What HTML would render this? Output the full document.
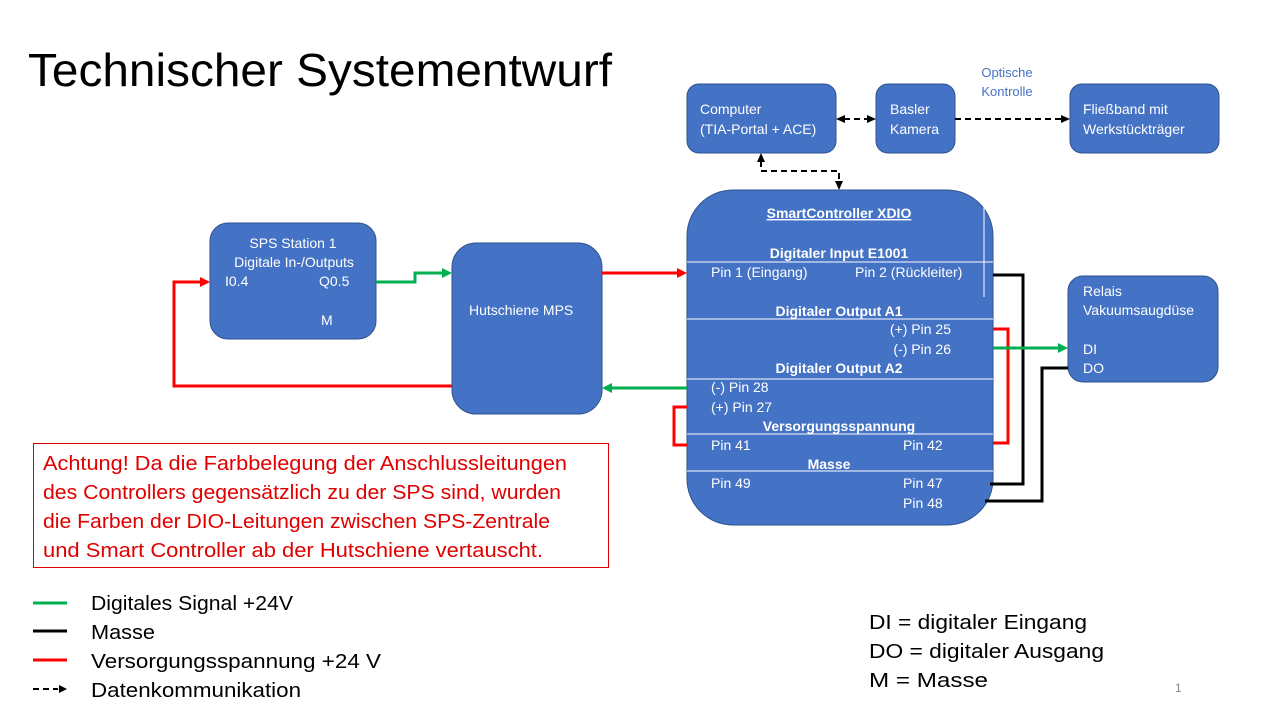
<!DOCTYPE html>
<html><head><meta charset="utf-8"><style>
html,body{margin:0;padding:0;background:#fff;}
svg{display:block;}
text{font-family:"Liberation Sans",sans-serif;}
.w{fill:#fff;font-size:14px;}
.wb{fill:#fff;font-size:14px;font-weight:bold;}
</style></head><body>
<svg width="1280" height="720" viewBox="0 0 1280 720" xmlns="http://www.w3.org/2000/svg">
<rect width="1280" height="720" fill="#fff"/>
<text x="28" y="86" font-size="46" fill="#000" textLength="584" lengthAdjust="spacingAndGlyphs">Technischer Systementwurf</text>

<!-- Top boxes -->
<rect x="687" y="84" width="149" height="69" rx="12" fill="#4472C4" stroke="#2F528F"/>
<text class="w" x="700" y="114">Computer</text>
<text class="w" x="700" y="134">(TIA-Portal + ACE)</text>
<rect x="876" y="84" width="79" height="69" rx="12" fill="#4472C4" stroke="#2F528F"/>
<text class="w" x="890" y="114">Basler</text>
<text class="w" x="890" y="134">Kamera</text>
<rect x="1070" y="84" width="149" height="69" rx="12" fill="#4472C4" stroke="#2F528F"/>
<text class="w" x="1083" y="114">Fließband mit</text>
<text class="w" x="1083" y="134">Werkstückträger</text>
<text x="1007" y="77" font-size="13" fill="#4472C4" text-anchor="middle">Optische</text>
<text x="1007" y="96" font-size="13" fill="#4472C4" text-anchor="middle">Kontrolle</text>

<!-- dashed connectors -->
<g stroke="#000" stroke-width="2" fill="none" stroke-dasharray="6,4">
<path d="M844 119 H868"/>
<path d="M955 119 H1062"/>
<path d="M761 161 V171 H839 V182"/>
</g>
<g fill="#000">
<polygon points="836,119 845,115 845,123"/>
<polygon points="876,119 867,115 867,123"/>
<polygon points="1070,119 1061,115 1061,123"/>
<polygon points="761,153 757,162 765,162"/>
<polygon points="839,190 835,181 843,181"/>
</g>

<!-- SPS Station -->
<rect x="210" y="223" width="166" height="116" rx="18" fill="#4472C4" stroke="#2F528F"/>
<text class="w" x="293" y="248" text-anchor="middle">SPS Station 1</text>
<text class="w" x="294" y="267" text-anchor="middle">Digitale In-/Outputs</text>
<text class="w" x="225" y="286">I0.4</text>
<text class="w" x="319" y="286">Q0.5</text>
<text class="w" x="321" y="325">M</text>

<!-- Hutschiene -->
<rect x="452" y="243" width="150" height="171" rx="24" fill="#4472C4" stroke="#2F528F"/>
<text class="w" x="469" y="315">Hutschiene MPS</text>

<!-- SmartController -->
<rect x="687" y="190" width="306" height="335" rx="46" fill="#4472C4" stroke="#2F528F"/>
<g stroke="#fff" stroke-width="1">
<line x1="687" y1="262" x2="993" y2="262"/>
<line x1="687" y1="319" x2="993" y2="319"/>
<line x1="687" y1="379" x2="993" y2="379"/>
<line x1="687" y1="434" x2="993" y2="434"/>
<line x1="687" y1="471" x2="993" y2="471"/>
<line x1="984" y1="203" x2="984" y2="297"/>
</g>
<text class="wb" x="839" y="218" text-anchor="middle" text-decoration="underline">SmartController XDIO</text>
<text class="wb" x="839" y="258" text-anchor="middle">Digitaler Input E1001</text>
<text class="w" x="711" y="277">Pin 1 (Eingang)</text>
<text class="w" x="855" y="277">Pin 2 (Rückleiter)</text>
<text class="wb" x="839" y="316" text-anchor="middle">Digitaler Output A1</text>
<text class="w" x="951" y="334" text-anchor="end">(+) Pin 25</text>
<text class="w" x="951" y="354" text-anchor="end">(-) Pin 26</text>
<text class="wb" x="839" y="373" text-anchor="middle">Digitaler Output A2</text>
<text class="w" x="711" y="392">(-) Pin 28</text>
<text class="w" x="711" y="412">(+) Pin 27</text>
<text class="wb" x="839" y="431" text-anchor="middle">Versorgungsspannung</text>
<text class="w" x="711" y="450">Pin 41</text>
<text class="w" x="903" y="450">Pin 42</text>
<text class="wb" x="829" y="469" text-anchor="middle">Masse</text>
<text class="w" x="711" y="488">Pin 49</text>
<text class="w" x="903" y="488">Pin 47</text>
<text class="w" x="903" y="508">Pin 48</text>

<!-- Relais -->
<rect x="1068" y="276" width="150" height="106" rx="15" fill="#4472C4" stroke="#2F528F"/>
<text class="w" x="1083" y="296">Relais</text>
<text class="w" x="1083" y="315">Vakuumsaugdüse</text>
<text class="w" x="1083" y="354">DI</text>
<text class="w" x="1083" y="373">DO</text>

<!-- wires -->
<g fill="none" stroke-width="3">
<path d="M376 282 H415 V273 H444" stroke="#00B050"/>
<path d="M602 273 H679" stroke="#FF0000"/>
<path d="M452 386 H174 V282 H202" stroke="#FF0000"/>
<path d="M687 388 H610" stroke="#00B050"/>
<path d="M687 407 H674 V445 H687" stroke="#FF0000"/>
<path d="M993 275 H1023 V484 H990" stroke="#000"/>
<path d="M993 329 H1008 V443 H993" stroke="#FF0000"/>
<path d="M993 348 H1060" stroke="#00B050"/>
<path d="M985 501 H1042 V368 H1068" stroke="#000"/>
</g>
<polygon points="452,273 442,268 442,278" fill="#00B050"/>
<polygon points="687,273 677,268 677,278" fill="#FF0000"/>
<polygon points="210,282 200,277 200,287" fill="#FF0000"/>
<polygon points="602,388 612,383 612,393" fill="#00B050"/>
<polygon points="1068,348 1058,343 1058,353" fill="#00B050"/>

<!-- Note -->
<rect x="33.5" y="443.5" width="575" height="124" fill="#fff" stroke="#E00000" stroke-width="1"/>
<g fill="#E00000" font-size="20">
<text x="43" y="470" textLength="524" lengthAdjust="spacingAndGlyphs">Achtung! Da die Farbbelegung der Anschlussleitungen</text>
<text x="43" y="499" textLength="518" lengthAdjust="spacingAndGlyphs">des Controllers gegensätzlich zu der SPS sind, wurden</text>
<text x="43" y="528" textLength="507" lengthAdjust="spacingAndGlyphs">die Farben der DIO-Leitungen zwischen SPS-Zentrale</text>
<text x="43" y="557" textLength="500" lengthAdjust="spacingAndGlyphs">und Smart Controller ab der Hutschiene vertauscht.</text>
</g>

<!-- Legend -->
<g stroke-width="3">
<line x1="33" y1="603" x2="67" y2="603" stroke="#00B050"/>
<line x1="33" y1="631" x2="67" y2="631" stroke="#000"/>
<line x1="33" y1="660" x2="67" y2="660" stroke="#FF0000"/>
</g>
<line x1="33" y1="689" x2="58" y2="689" stroke="#000" stroke-width="2" stroke-dasharray="6,4"/>
<polygon points="67,689 59,685 59,693" fill="#000"/>
<g fill="#000" font-size="20">
<text x="91" y="610" textLength="202" lengthAdjust="spacingAndGlyphs">Digitales Signal +24V</text>
<text x="91" y="639" textLength="64" lengthAdjust="spacingAndGlyphs">Masse</text>
<text x="91" y="668" textLength="290" lengthAdjust="spacingAndGlyphs">Versorgungsspannung +24 V</text>
<text x="91" y="697" textLength="210" lengthAdjust="spacingAndGlyphs">Datenkommunikation</text>
<text x="869" y="629" textLength="218" lengthAdjust="spacingAndGlyphs">DI = digitaler Eingang</text>
<text x="869" y="658" textLength="235" lengthAdjust="spacingAndGlyphs">DO = digitaler Ausgang</text>
<text x="869" y="687" textLength="119" lengthAdjust="spacingAndGlyphs">M = Masse</text>
</g>
<text x="1175" y="692" font-size="12" fill="#888">1</text>
</svg>
</body></html>
